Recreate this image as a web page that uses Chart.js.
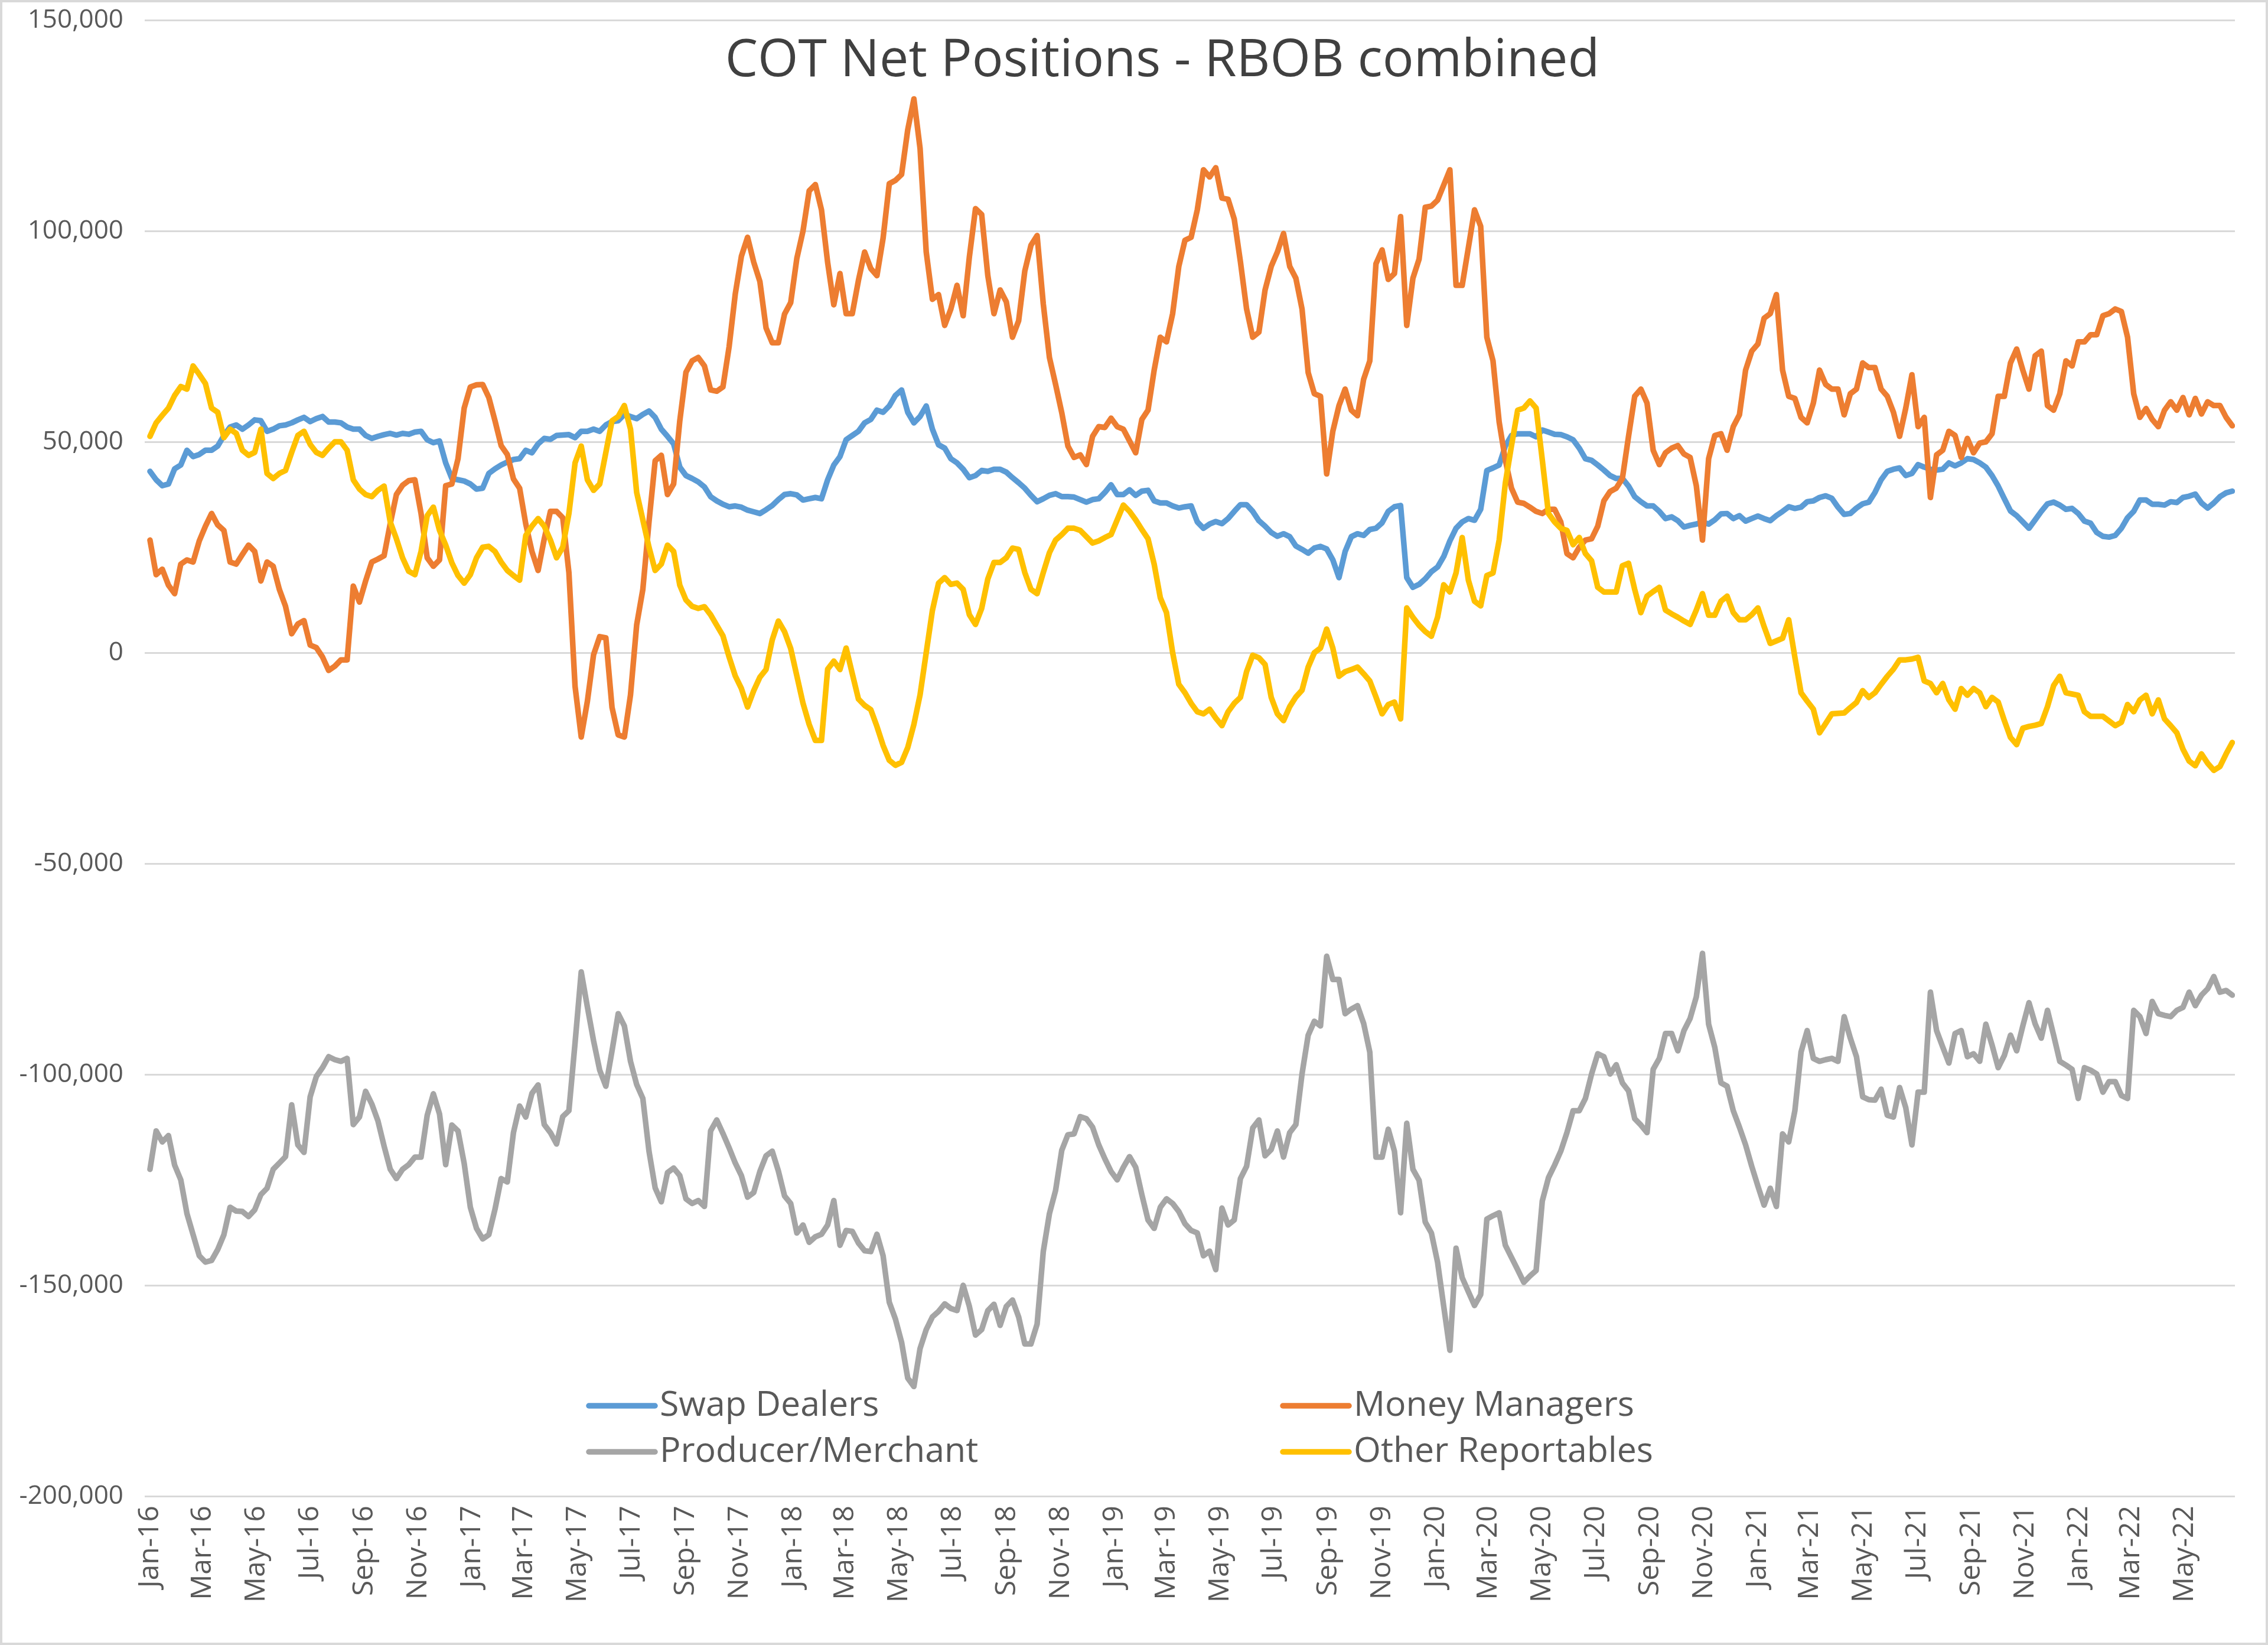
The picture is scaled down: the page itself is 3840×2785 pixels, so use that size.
<!DOCTYPE html>
<html>
<head>
<meta charset="utf-8">
<script src="https://cdn.jsdelivr.net/npm/chart.js@4.4.0/dist/chart.umd.min.js"></script>
<style>
html,body{margin:0;padding:0;background:#ffffff;}
#wrap{width:3840px;height:2785px;position:relative;}
</style>
</head>
<body>
<div id="wrap"><canvas id="c" width="3840" height="2785"></canvas></div>
<script>
// ---- DATA (weekly COT reports, values in thousands of contracts) ----
const firstReport = '2016-01-05';
const chartTitle = 'COT Net Positions - RBOB combined';
const seriesNames = ['Swap Dealers', 'Money Managers', 'Producer/Merchant', 'Other Reportables'];
const tickLabels = ['Jan-16','Mar-16','May-16','Jul-16','Sep-16','Nov-16',
  'Jan-17','Mar-17','May-17','Jul-17','Sep-17','Nov-17',
  'Jan-18','Mar-18','May-18','Jul-18','Sep-18','Nov-18',
  'Jan-19','Mar-19','May-19','Jul-19','Sep-19','Nov-19',
  'Jan-20','Mar-20','May-20','Jul-20','Sep-20','Nov-20',
  'Jan-21','Mar-21','May-21','Jul-21','Sep-21','Nov-21',
  'Jan-22','Mar-22','May-22'];
const yTickValues = [150, 100, 50, 0, -50, -100, -150, -200];

const swapDealers = [
43,41,39.6,40,43.6,44.5,48,46.5,47,48,
48,49,51.5,53.5,54,53,54,55.2,55,52.5,
53,53.8,54,54.5,55.2,55.8,54.8,55.5,56,54.7,
54.7,54.5,53.5,53,53,51.5,50.8,51.3,51.7,52,
51.6,52,51.8,52.3,52.5,50.5,49.8,50.2,45,41.3,
41,40.7,40,38.8,39,42.5,43.6,44.5,45.2,45.8,
46,48,47.4,49.5,50.8,50.6,51.5,51.6,51.7,51,
52.5,52.5,53,52.5,54,54.8,55,56.5,56,55.5,
56.5,57.3,55.8,53,51.3,49.5,44,42,41.3,40.5,
39.3,37,36,35.2,34.6,34.8,34.5,33.8,33.4,33,
33.9,34.9,36.3,37.5,37.7,37.4,36.2,36.5,36.8,36.5,
41,44.5,46.5,50.5,51.5,52.5,54.5,55.3,57.5,57,
58.5,61,62.3,57,54.5,56,58.5,53,49.3,48.5,
46,45,43.5,41.5,42,43.2,43,43.5,43.5,42.8,
41.5,40.3,39,37.3,35.8,36.5,37.3,37.7,37,37,
36.9,36.3,35.7,36.3,36.5,38,39.8,37.5,37.5,38.6,
37.3,38.3,38.5,36,35.5,35.5,34.8,34.3,34.6,34.8,
31,29.5,30.5,31.1,30.6,31.8,33.5,35.1,35.1,33.5,
31.3,30,28.5,27.6,28.2,27.5,25.3,24.5,23.6,24.8,
25.2,24.6,22,17.8,24,27.5,28.2,27.8,29.2,29.5,
30.8,33.5,34.6,34.9,17.8,15.5,16.2,17.5,19.2,20.3,
22.8,26.5,29.5,31,31.8,31.4,34,43.2,43.8,44.5,
49,51.5,51.9,51.9,51.9,51.2,52.8,52.3,51.8,51.7,
51.2,50.5,48.5,46,45.6,44.5,43.3,42,41.3,41.3,
39.5,37,35.8,34.8,34.8,33.5,31.8,32.2,31.3,29.8,
30.2,30.5,31,30.5,31.5,32.9,33,31.8,32.5,31.2,
31.8,32.4,31.8,31.3,32.5,33.5,34.6,34.2,34.5,35.8,
36,36.8,37.2,36.6,34.5,32.8,33,34.3,35.3,35.7,
38,41,43,43.5,43.8,42,42.5,44.6,44,43.5,
43.3,43.5,45,44.3,45,46,45.8,45,44,42,
39.5,36.5,33.6,32.5,31,29.5,31.5,33.5,35.3,35.7,
35,34,34.2,33,31.2,30.7,28.5,27.6,27.4,27.8,
29.5,32,33.5,36.2,36.2,35.2,35.2,35,35.8,35.6,
36.8,37.1,37.6,35.5,34.3,35.5,37,37.9,38.3];

const moneyManagers = [
26.7,18.5,19.8,16,14,21,22,21.5,26.5,30,
33,30.3,29,21.5,21,23.3,25.5,24,17,21.5,
20.5,15,11,4.5,6.8,7.6,1.8,1.2,-1,-4.2,
-3.2,-1.7,-1.7,15.8,12,17,21.5,22.2,23,30.6,
37.5,39.7,40.8,41,33,22.5,20.5,22,39.6,40,
46,58,63,63.5,63.6,60.5,55,49.1,47,41.2,
39,30.5,24,19.5,27,33.5,33.5,32,19,-8,
-20,-11.5,-0.5,3.8,3.5,-13,-19.5,-20,-10,6.6,
15,31,45.5,46.8,37.5,40,55,66.5,69.2,70,
68,62.3,62,63,72.5,85,94,98.5,92.6,88,
77,73.5,73.5,80.3,83,93.5,100,109.5,111,105,
92.5,82.5,89.9,80.4,80.4,88.3,95,91.1,89.4,98.3,
111.2,112,113.4,124,131.3,119.6,95,83.8,84.9,77.6,
81.5,87.1,79.9,93.8,105.3,103.9,89.4,80.4,86,83.2,
74.8,78.7,90.5,96.6,98.9,82.7,70,63.6,56.9,49,
46.3,46.9,44.6,51.3,53.6,53.4,55.6,53.6,53,50.2,
47.4,55.3,57.5,67,74.8,73.7,80.4,91.6,97.8,98.5,
105,114.5,112.8,115,107.8,107.5,102.8,92.7,81.5,74.8,
76,86,91.6,95,99.4,91.6,88.8,81.5,66.4,61.4,
60.8,42.4,52.5,58.6,62.5,57.5,56.2,64.8,69.2,92.2,
95.5,88.5,89.9,103.4,77.6,88.8,93.3,105.6,105.9,107.3,
110.9,114.5,87.1,87.1,96,105,101.1,74.8,69.2,54.7,
45.7,39,35.7,35.4,34.5,33.5,33,34,34,31,
23.5,22.5,25,26.7,27,30,36,38.2,39,41.3,
51.3,60.8,62.5,59.2,48,44.6,47.4,48.5,49.1,47.1,
46.3,39.6,26.7,46,51.5,51.9,48,53.6,56.4,67,
71.5,73.2,79.3,80.4,84.9,67,60.8,60.3,55.8,54.5,
59.2,67,63.6,62.5,62.5,56.4,61.4,62.5,68.7,67.6,
67.6,62.5,60.8,57,51.3,58,65.9,53.6,55.8,36.8,
46.9,48,52.5,51.5,46.3,50.8,47.4,49.7,50,51.9,
60.8,60.8,68.7,72,67,62.5,70.4,71.5,58.6,57.5,
61.4,69.2,68,73.7,73.7,75.4,75.4,79.9,80.4,81.5,
80.9,74.8,61.4,55.8,57.9,55.3,53.6,57.5,59.5,57.5,
60.5,56.4,60.3,56.6,59.5,58.6,58.6,55.8,53.8];

const producerMerchant = [
-122.5,-113.4,-116,-114.5,-121.5,-125,-133,-138,-143,-144.5,
-144.1,-141.5,-138,-131.5,-132.4,-132.5,-133.7,-132.1,-128.5,-127,
-122.5,-121,-119.5,-107.2,-116.7,-118.5,-105.3,-100.5,-98.4,-95.8,
-96.5,-96.9,-96.2,-111.9,-110.1,-104,-107,-111,-117,-122.5,
-124.7,-122.5,-121.4,-119.6,-119.6,-109.7,-104.6,-109.4,-121.4,-112,
-113.4,-121.1,-131.5,-136.5,-139,-138,-132,-124.7,-125.5,-113.8,
-107.5,-110.1,-104.5,-102.5,-111.9,-113.8,-116.5,-110,-108.6,-92.5,
-75.7,-84,-92,-99,-102.8,-94.4,-85.6,-88.5,-96.9,-102.4,
-105.7,-118.2,-126.9,-130.2,-123.3,-122.2,-124,-129.5,-130.6,-129.9,
-131.3,-113.4,-110.8,-114,-117.4,-121,-124,-129.1,-128,-123,
-119.3,-118.2,-122.9,-128.8,-130.6,-137.6,-135.7,-139.8,-138.5,-137.9,
-135.7,-129.9,-140.5,-137,-137.2,-140,-141.8,-142,-137.9,-143,
-154,-158,-163.5,-172,-174,-165,-160.5,-157.5,-156.2,-154.4,
-155.5,-156,-150,-155,-161.8,-160.5,-156,-154.5,-159.5,-155,
-153.5,-157.5,-163.9,-163.9,-159.2,-142,-133,-127.5,-118,-114.3,
-114.1,-110,-110.5,-112.5,-116.7,-120,-123,-125,-122,-119.5,
-122,-128.5,-134.5,-136.5,-131.5,-129.5,-130.6,-132.5,-135.4,-137,
-137.6,-143,-141.9,-146.3,-131.7,-135.7,-134.5,-124.7,-121.8,-112.7,
-110.8,-119.3,-117.8,-113.4,-119.6,-113.8,-111.9,-99.9,-90.7,-87.4,
-88.5,-72,-77.5,-77.5,-85.6,-84.5,-83.7,-87.9,-94.7,-119.6,
-119.6,-113,-118.2,-132.8,-111.6,-122.5,-125.1,-135,-137.6,-144.5,
-155,-165.4,-141.2,-148.2,-151.5,-154.8,-152.2,-134.3,-133.5,-132.8,
-140.5,-143.4,-146.3,-149.3,-147.8,-146.5,-130,-124.5,-121.5,-118.2,
-113.8,-108.6,-108.6,-105.7,-99.9,-95.1,-95.8,-99.9,-97.7,-102,
-103.9,-110.5,-112,-113.8,-98.8,-96.2,-90.3,-90.3,-94.4,-89.6,
-86.7,-81.6,-71.3,-88.1,-93.6,-102,-102.8,-108.6,-112.5,-116.7,
-121.8,-126.5,-131,-127,-131.3,-114.1,-116,-108.6,-94.7,-89.6,
-96.2,-96.9,-96.5,-96.2,-96.9,-86.3,-91.4,-95.8,-105.3,-106,
-106.1,-103.5,-109.7,-110.1,-103.1,-107.9,-116.7,-104.2,-104.2,-80.5,
-89.6,-93.5,-97.3,-90.3,-89.6,-95.8,-95.1,-96.9,-88.1,-93,
-98.4,-95.5,-90.7,-94.4,-88.5,-83,-88,-91.4,-84.8,-90.7,
-96.9,-97.8,-98.8,-105.7,-98.4,-99,-99.9,-104.2,-101.7,-101.7,
-105,-105.7,-84.8,-86.3,-90.3,-82.7,-85.6,-86,-86.3,-84.8,
-84.1,-80.5,-83.7,-81.2,-79.7,-76.8,-80.5,-80.1,-81.2];

const otherReportables = [
51.3,54.5,56.3,58,61,63.1,62.5,68,66,63.8,
58,57,51,53,52,48,46.8,47.5,53,42.5,
41.3,42.5,43.2,47.5,51.5,52.5,49.4,47.5,46.8,48.5,
50,50,48,41,38.8,37.5,37,38.5,39.5,31,
27,22.5,19.3,18.5,24,32.5,34.5,29,25.5,21.3,
18.3,16.5,18.5,22.5,25,25.2,24,21.5,19.5,18.3,
17.2,27.8,30,31.8,30,26.7,22.5,25,33,45,
49,41,38.5,40,47.5,55,56,58.6,53,38,
31.5,25,19.5,21,25.5,24,16,12.5,11,10.5,
10.9,9,6.5,4,-1,-5.5,-8.5,-12.9,-9,-5.8,
-4,3,7.5,5,1,-5.5,-12,-17,-20.8,-20.8,
-3.9,-2,-4,1.1,-5,-11,-12.5,-13.5,-17.5,-22,
-25.5,-26.7,-26,-22.5,-17,-10,0,10,16.5,17.8,
16.2,16.5,15,9,6.7,10.5,17.5,21.4,21.4,22.5,
24.8,24.5,19,15,14,19,23.7,26.7,28,29.5,
29.5,29,27.5,26,26.5,27.3,28,31.5,35,33.5,
31.5,29.2,27,21,13,9.5,0,-7.5,-9.5,-12,
-14,-14.5,-13.4,-15.5,-17.3,-14,-12,-10.6,-4.5,-0.6,
-1.2,-2.8,-10.6,-14.5,-16.1,-12.8,-10.5,-8.9,-3.4,0,
1.1,5.6,1.1,-5.6,-4.5,-4,-3.4,-5,-6.7,-10.5,
-14.5,-12.3,-11.7,-15.7,10.6,8.4,6.5,5,3.9,8.4,
16.1,14.4,18.9,27.3,17.2,12.2,11.1,18.3,18.9,26.7,
40.2,49.1,57.5,58,59.7,58,45.7,33,31,29.5,
29,25.6,27.3,23.5,21.8,15.5,14.4,14.4,14.4,20.6,
21.2,15,9.5,13.4,14.5,15.5,10.1,9.2,8.4,7.5,
6.7,10.1,14,8.9,8.9,12.2,13.4,9.5,7.8,7.8,
9,10.6,6.2,2.2,2.8,3.4,7.8,-1.1,-9.5,-11.5,
-13.4,-19,-16.8,-14.5,-14.4,-14.3,-13,-11.8,-9,-10.6,
-9.5,-7.5,-5.6,-3.9,-1.7,-1.7,-1.5,-1.1,-6.7,-7.3,
-9.5,-7.3,-11.2,-13.4,-8.5,-10.1,-8.5,-9.5,-12.8,-10.6,
-11.7,-16.1,-20.1,-21.8,-17.9,-17.5,-17.2,-16.8,-12.8,-7.8,
-5.6,-9.5,-9.8,-10.1,-14,-15.1,-15.1,-15.1,-16.2,-17.3,
-16.5,-12.3,-14,-11.2,-10.1,-14.5,-11.2,-15.7,-17.3,-19,
-22.9,-25.7,-26.8,-24,-26.2,-27.9,-27,-24,-21.3];

// ---- helpers (dates -> day offsets on a linear axis) ----
const DAY = 86400000;
const t0 = Date.parse(firstReport + 'T00:00:00Z');
const MONTHS = ['Jan','Feb','Mar','Apr','May','Jun','Jul','Aug','Sep','Oct','Nov','Dec'];
// weekly report dates (categories), as day offsets from the first report
const reportDays = swapDealers.map((_, i) => i * 7);
function labelToDay(lbl) {
  const [m, yy] = lbl.split('-');
  return Math.round((Date.UTC(2000 + parseInt(yy, 10), MONTHS.indexOf(m), 5) - t0) / DAY);
}
const tickDays = tickLabels.map(labelToDay);
const tickLabelByDay = {};
tickDays.forEach((d, i) => { tickLabelByDay[d] = tickLabels[i]; });

const FONT = "'Open Sans', 'Noto Sans', sans-serif";
const colors = ['#5B9BD5', '#ED7D31', '#A5A5A5', '#FFC000'];
const seriesData = [swapDealers, moneyManagers, producerMerchant, otherReportables];
const LINE_W = 9.5;

const datasets = seriesData.map((arr, k) => ({
  label: seriesNames[k],
  data: arr.map((v, i) => ({ x: reportDays[i], y: v })),
  borderColor: colors[k],
  backgroundColor: colors[k],
  borderWidth: LINE_W,
  pointRadius: 0,
  tension: 0,
  fill: false,
  order: 4 - k
}));

const frame = {
  id: 'frame',
  beforeDraw(chart) {
    const ctx = chart.ctx;
    ctx.save();
    ctx.fillStyle = '#ffffff';
    ctx.fillRect(0, 0, chart.width, chart.height);
    ctx.restore();
  },
  afterDraw(chart) {
    const ctx = chart.ctx;
    ctx.save();
    // outer border
    ctx.strokeStyle = '#d9d9d9';
    ctx.lineWidth = 4;
    ctx.strokeRect(2, 2, chart.width - 4, chart.height - 4);
    // title (drawn inside the plot area, as in the original)
    ctx.fillStyle = '#404040';
    ctx.font = `88px ${FONT}`;
    ctx.textAlign = 'center';
    ctx.textBaseline = 'middle';
    ctx.fillText(chartTitle, 1968, 104);
    // legend (two columns, two rows, inside the plot bottom)
    const cols = [997, 2172];
    const rows = [2380, 2458];
    ctx.font = `59px ${FONT}`;
    ctx.textAlign = 'left';
    ctx.textBaseline = 'middle';
    chart.data.datasets.forEach((ds, k) => {
      const x = cols[k % 2];
      const y = rows[Math.floor(k / 2)];
      ctx.strokeStyle = ds.borderColor;
      ctx.lineWidth = LINE_W;
      ctx.lineCap = 'round';
      ctx.beginPath();
      ctx.moveTo(x, y);
      ctx.lineTo(x + 112, y);
      ctx.stroke();
      ctx.fillStyle = '#595959';
      ctx.fillText(ds.label, x + 120, y);
    });
    ctx.restore();
  }
};

new Chart(document.getElementById('c'), {
  type: 'line',
  data: { datasets },
  options: {
    responsive: false,
    animation: false,
    devicePixelRatio: 1,
    layout: { padding: { left: 0, right: 56, top: 34, bottom: 0 } },
    plugins: { legend: { display: false }, title: { display: false }, tooltip: { enabled: false } },
    elements: { line: { borderJoinStyle: 'round', borderCapStyle: 'round' } },
    scales: {
      x: {
        type: 'linear',
        min: -6,
        max: reportDays[reportDays.length - 1] + 3,
        afterBuildTicks: s => { s.ticks = tickDays.map(v => ({ value: v })); },
        afterFit: s => { s.height = 252; s.paddingLeft = 0; s.paddingRight = 0; },
        grid: { display: false, drawTicks: false },
        border: { display: false },
        ticks: {
          autoSkip: false, maxRotation: 90, minRotation: 90, padding: 16,
          color: '#595959', font: { family: FONT, size: 48 },
          callback: v => tickLabelByDay[v] || ''
        }
      },
      y: {
        min: -200, max: 150,
        afterBuildTicks: s => { s.ticks = yTickValues.map(v => ({ value: v })); },
        afterFit: s => { s.width = 245; s.paddingTop = 0; s.paddingBottom = 0; },
        grid: { color: '#d9d9d9', lineWidth: 3, drawTicks: false },
        border: { display: false },
        ticks: {
          padding: 36, color: '#595959', font: { family: FONT, size: 44 },
          callback: v => (v * 1000).toLocaleString('en-US')
        }
      }
    }
  },
  plugins: [frame]
});
</script>
</body>
</html>
